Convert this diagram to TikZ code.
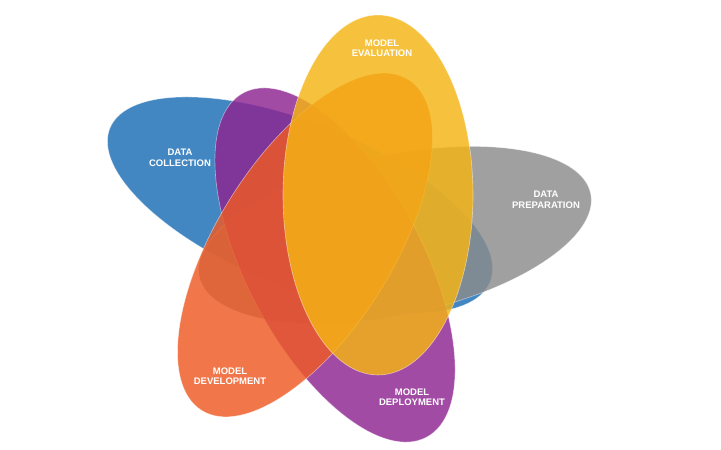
\documentclass[tikz,border=0pt]{standalone}
\usepackage{fontspec}
\setmainfont{Liberation Sans}
\begin{document}
\begin{tikzpicture}[x=1pt,y=-1pt,
  petal/.style={fill opacity=0.82,draw=white,draw opacity=0.5,line width=0.6pt},
  lab/.style={text=white,font=\bfseries\fontsize{9.5}{10.5}\selectfont,align=center}]
\useasboundingbox (0,0) rectangle (721,450);
\fill[white] (0,0) rectangle (721,450);
\fill[petal,fill={rgb,255:red,26;green,109;blue,181},rotate around={-22:(300,205)}] (300,205) ellipse (205 and 82);
\fill[petal,fill={rgb,255:red,140;green,140;blue,140},rotate around={12:(395,235)}] (395,235) ellipse (200 and 80);
\fill[petal,fill={rgb,255:red,142;green,36;blue,145},rotate around={118:(335,265)}] (335,265) ellipse (195 and 88);
\fill[petal,fill={rgb,255:red,238;green,90;blue,36},rotate around={58:(305,245)}] (305,245) ellipse (195 and 88);
\fill[petal,fill={rgb,255:red,245;green,181;blue,20}] (378,195) ellipse (95 and 180);
\node[lab] (me) at (382,48) {MODEL\\EVALUATION};
\node[lab] (dc) at (180,158) {DATA\\COLLECTION};
\node[lab] (dp) at (546,200) {DATA\\PREPARATION};
\node[lab] (md) at (230,376) {MODEL\\DEVELOPMENT};
\node[lab] (mp) at (412,397) {MODEL\\DEPLOYMENT};
\end{tikzpicture}
\end{document}
